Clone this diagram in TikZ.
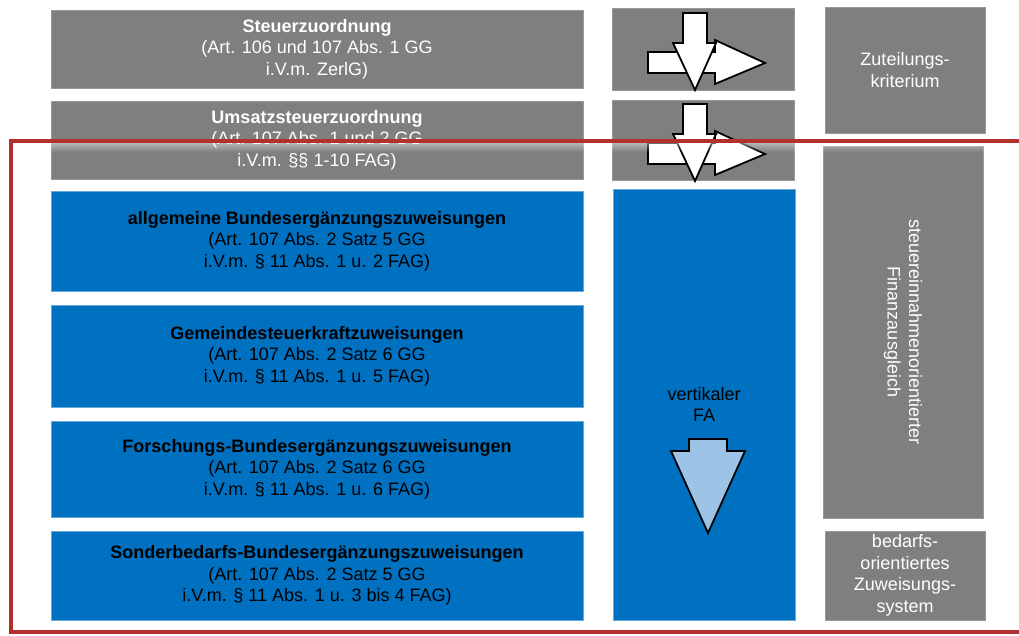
\documentclass[tikz,border=0pt]{standalone}
\usepackage{fontspec}
\setmainfont{Liberation Sans}
\usetikzlibrary{fadings}
\definecolor{boxgray}{HTML}{7F7F7F}
\definecolor{boxblue}{HTML}{0070C0}
\definecolor{arrowblue}{HTML}{9DC3E6}
\definecolor{framered}{HTML}{B2302E}
\tikzset{
  panel/.style={rectangle, inner sep=0pt, outer sep=0pt, align=center,
    font=\fontsize{18}{21.5}\selectfont},
  graypanel/.style={panel, fill=boxgray, draw=black!40, line width=0.6pt, text=white},
  bluepanel/.style={panel, fill=boxblue, draw=boxblue!60!white, line width=0.6pt, text=black},
  flowarrow/.style={fill=white, draw=black, line width=1.8pt, line join=miter},
  pics/assign/.style={code={
    % arrow to the right
    \draw[flowarrow] (-55.5,-3) -- (11.5,-3) -- (11.5,9) -- (61.5,-14)
      -- (11.5,-35) -- (11.5,-24) -- (-55.5,-24) -- cycle;
    % arrow downwards
    \draw[flowarrow] (-20.5,36) -- (3.5,36) -- (3.5,6) -- (12.5,6)
      -- (-8.5,-41) -- (-30.5,6) -- (-20.5,6) -- cycle;
  }}
}
\begin{document}
\begin{tikzpicture}[x=1pt,y=1pt]
\useasboundingbox (0,0) rectangle (1019,-635);

% left column
\node[graypanel, minimum width=532pt, minimum height=78pt] (steuer) at (317,-49)
  {\textbf{Steuerzuordnung}\\(Art. 106 und 107 Abs. 1 GG\\i.V.m. ZerlG)};
\node[graypanel, minimum width=532pt, minimum height=78pt] (umsatz) at (317,-140)
  {\textbf{Umsatzsteuerzuordnung}\\(Art. 107 Abs. 1 und 2 GG\\i.V.m. §§ 1-10 FAG)};
\node[bluepanel, minimum width=532pt, minimum height=100pt] (allg) at (317,-241)
  {\textbf{allgemeine Bundesergänzungszuweisungen}\\(Art. 107 Abs. 2 Satz 5 GG\\i.V.m. § 11 Abs. 1 u. 2 FAG)};
\node[bluepanel, minimum width=532pt, minimum height=102pt] (gemeinde) at (317,-356)
  {\textbf{Gemeindesteuerkraftzuweisungen}\\(Art. 107 Abs. 2 Satz 6 GG\\i.V.m. § 11 Abs. 1 u. 5 FAG)};
\node[bluepanel, minimum width=532pt, minimum height=96pt] (forsch) at (317,-469)
  {\textbf{Forschungs-Bundesergänzungszuweisungen}\\(Art. 107 Abs. 2 Satz 6 GG\\i.V.m. § 11 Abs. 1 u. 6 FAG)};
\node[bluepanel, minimum width=532pt, minimum height=89pt] (sonder) at (317,-575.5)
  {\textbf{Sonderbedarfs-Bundesergänzungszuweisungen}\\(Art. 107 Abs. 2 Satz 5 GG\\i.V.m. § 11 Abs. 1 u. 3 bis 4 FAG)};

% middle column
\node[graypanel, minimum width=182pt, minimum height=82pt] (arr1) at (703.5,-49) {};
\node[graypanel, minimum width=182pt, minimum height=80pt] (arr2) at (703.5,-140) {};
\pic at (arr1.center) {assign};
\pic at (arr2.center) {assign};
\node[bluepanel, minimum width=182pt, minimum height=431pt] (fa) at (704,-404.5)
  {vertikaler\\FA};
\draw[fill=arrowblue, draw=black, line width=1.8pt]
  (689,-439) -- (727,-439) -- (727,-451) -- (745,-451) -- (708,-533)
  -- (671,-451) -- (689,-451) -- cycle;

% right column
\node[graypanel, minimum width=160pt, minimum height=126pt] (zut) at (905,-70)
  {Zuteilungs-\\kriterium};
\node[graypanel, minimum width=160pt, minimum height=372pt] (steinn) at (903,-332) {};
\node[panel, text=white, rotate=-90] (steinntext) at (steinn.center)
  {steuereinnahmenorientierter\\Finanzausgleich};
\node[graypanel, minimum width=160pt, minimum height=89pt] (bed) at (905,-575.5)
  {bedarfs-\\orientiertes\\Zuweisungs-\\system};

% red frame with soft shadow below its upper edge
\fill[white, opacity=0.45, path fading=south] (10,-142.5) rectangle (1019,-152);
\draw[framered, line width=3.5pt, line join=miter]
  (1019,-141) -- (11,-141) -- (11,-632) -- (1019,-632);
\end{tikzpicture}
\end{document}
